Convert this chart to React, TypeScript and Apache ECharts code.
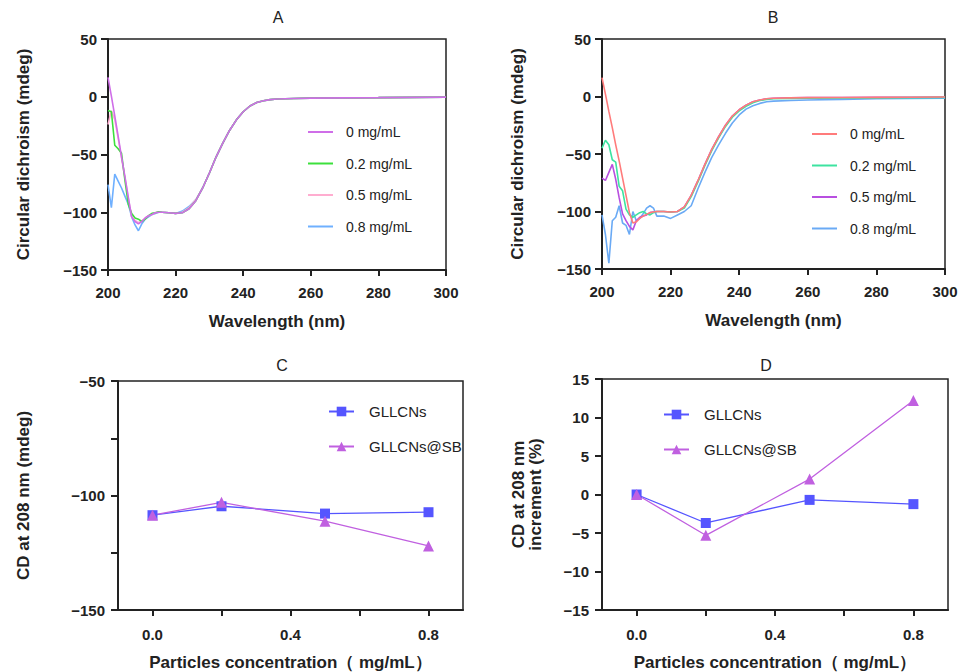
import React, { useEffect, useRef } from "react";
import * as echarts from "echarts";

const FONT = '"Liberation Sans", Arial, Helvetica, sans-serif';

// Panels A & B: wavelength grid (nm)
const wavelengths = [200, 201, 202, 203, 204, 205, 206, 207, 208, 209, 210, 211, 212, 213, 214, 215, 216, 218, 220, 222, 224, 226, 228, 230, 232, 234, 236, 238, 240, 242, 244, 246, 248, 250, 255, 260, 270, 280, 290, 300];

// Panel A (mdeg)
const A_0 = [16.8, 0.5, -16.5, -34, -52, -69, -87, -104, -108, -110, -108, -105, -103, -102, -100.5, -100, -100, -100.5, -101, -100.5, -97, -90, -79, -66, -52, -40, -29, -20, -13, -8, -5, -3.5, -2.5, -2, -1.5, -1.2, -1, -0.8, -0.5, -0.3];
const A_02 = [-12, -13, -42, -45, -49, -72, -93, -101, -105, -106, -108, -106, -103, -101, -100.5, -99.5, -100, -100.5, -101, -100.5, -97, -90, -79, -66, -52, -40, -29, -20, -13, -8, -5, -3.5, -2.5, -2, -1.5, -1.2, -1, -0.8, -0.5, -0.3];
const A_05 = [-24, -12, -20, -36, -53, -70, -88, -104, -107, -109, -107.5, -105, -103, -102, -100.5, -100, -100, -100.5, -101, -100, -96, -89, -79, -66, -52, -40, -29, -20, -13, -8, -5, -3.5, -2.5, -2, -1.5, -1.2, -1, -0.8, -0.5, -0.3];
const A_08 = [-76, -96, -67, -73, -79, -86, -93, -104, -111, -116, -110, -106, -104, -102, -101, -100, -100, -100.5, -101, -99, -95, -89, -79, -66, -52, -40, -29, -20, -13, -8, -5, -3.5, -2.5, -2, -1.5, -1.2, -1, -0.8, -0.5, -0.3];

// Panel B (mdeg)
const B_0 = [16.4, 2, -13, -27, -42, -56, -71, -86, -101, -110, -109, -106, -104, -102.5, -101, -100.5, -100, -100, -100.5, -100, -96, -86, -73, -59, -46, -35, -25, -17, -11.5, -7.5, -4.5, -3, -2, -1.5, -1.2, -1, -0.9, -0.8, -0.6, -0.5];
const B_02 = [-45, -38, -42, -55, -57, -78, -82, -98, -103, -105, -103, -101, -100, -102, -103, -101, -100, -100, -100.5, -100, -97, -87, -74, -60, -47, -36, -26, -18, -12.5, -8.5, -5.5, -3.5, -2.5, -2, -1.8, -1.5, -1.3, -1.2, -1, -0.8];
const B_05 = [-71, -73, -66, -59, -72, -88, -102, -108, -113, -116, -108, -105, -104, -103, -101, -100.5, -100, -100, -100.5, -100, -96, -86, -73, -59, -46, -35, -25, -17, -11.5, -7.5, -4.5, -3, -2, -1.5, -1.2, -1, -0.9, -0.8, -0.6, -0.5];
const B_08 = [-103, -120, -145, -108, -105, -95, -110, -112, -120, -100, -108, -106, -102, -97, -95, -97, -104, -104, -106, -103, -100, -95, -80, -66, -53, -42, -32, -23, -16, -11, -8, -6, -4.5, -4, -3.5, -3, -2.5, -2, -1.8, -1.5];

// Panels C & D
const concentrations = [0, 0.2, 0.5, 0.8];
const C_GLLCNs = [-108.6, -104.7, -107.9, -107.3];
const C_SB = [-108.6, -103, -111.2, -122];
const D_GLLCNs = [0, -3.7, -0.7, -1.25];
const D_SB = [0, -5.3, 2, 12.2];

const LEG_A = ["0 mg/mL", "0.2 mg/mL", "0.5 mg/mL", "0.8 mg/mL"];
const LEG_CD = ["GLLCNs", "GLLCNs@SB"];

const AX = "#222";
const minus = (v: number) => (v < 0 ? "\u2212" + Math.abs(v) : String(v));

function pairs(xs: number[], ys: number[]) {
  return xs.map((x, i) => [x, ys[i]]);
}

function xAxisBase(gridIndex: number, extra: any) {
  return {
    type: "value",
    gridIndex,
    nameLocation: "middle",
    nameTextStyle: { fontFamily: FONT, fontWeight: "bold", fontSize: 17, color: AX },
    axisLine: { onZero: false, lineStyle: { color: AX, width: 2 } },
    axisTick: { inside: false, length: 6, lineStyle: { color: AX, width: 2 } },
    axisLabel: { fontFamily: FONT, fontWeight: "bold", fontSize: 15, color: AX },
    splitLine: { show: false },
    ...extra,
  };
}

export default function App() {
  const ref = useRef<HTMLDivElement>(null);
  useEffect(() => {
    if (!ref.current) return;
    const chart = echarts.init(ref.current, undefined, { renderer: "svg" });
    const curve = (name: string, xi: number, ys: number[], color: string) => ({
      type: "line",
      name,
      xAxisIndex: xi,
      yAxisIndex: xi,
      data: pairs(wavelengths, ys),
      symbol: "none",
      lineStyle: { color, width: 1.6 },
      itemStyle: { color },
    });
    const pts = (name: string, xi: number, ys: number[], color: string, symbol: string, size: number) => ({
      type: "line",
      name,
      xAxisIndex: xi,
      yAxisIndex: xi,
      data: pairs(concentrations, ys),
      symbol,
      symbolSize: size,
      lineStyle: { color, width: 1.3 },
      itemStyle: { color },
    });
    const legendText = { fontFamily: FONT, fontSize: 14, color: AX, padding: [0, 0, 0, 8] };
    const strip = (n: string) => n.replace(/^[A-D]:/, "");
    const gridStyle = { show: true, borderColor: AX, borderWidth: 1.5, backgroundColor: "transparent" };
    const yName = { fontFamily: FONT, fontWeight: "bold", fontSize: 17, color: AX };
    const yAxisBase = (gridIndex: number, extra: any) => ({
      type: "value",
      gridIndex,
      nameLocation: "middle",
      nameTextStyle: yName,
      axisLine: { show: true, onZero: false, lineStyle: { color: AX, width: 2 } },
      axisTick: { show: true, inside: false, length: 7, lineStyle: { color: AX, width: 2 } },
      axisLabel: { fontFamily: FONT, fontWeight: "bold", fontSize: 15, color: AX, margin: 11, formatter: minus },
      splitLine: { show: false },
      ...extra,
    });
    const lineLegend = { orient: "vertical", padding: 0, itemWidth: 25, itemHeight: 14, itemGap: 17.5, formatter: strip, textStyle: legendText, selectedMode: false, itemStyle: { opacity: 0 }, lineStyle: { width: 2 } };
    const ptLegend = { orient: "vertical", padding: 0, itemWidth: 25, itemHeight: 12, itemGap: 20, formatter: strip, textStyle: { ...legendText, fontSize: 15, padding: [0, 0, 0, 10] }, selectedMode: false };
    const option: any = {
      animation: false,
      backgroundColor: "#fff",
      grid: [
        { left: 108, top: 39, width: 338, height: 231, ...gridStyle },
        { left: 602, top: 39, width: 343, height: 230, ...gridStyle },
        { left: 118, top: 381, width: 345, height: 229, ...gridStyle },
        { left: 602, top: 379, width: 346, height: 232, ...gridStyle },
      ],
      xAxis: [
        xAxisBase(0, { min: 200, max: 300, interval: 20, name: "Wavelength (nm)", nameGap: 43, axisLabel: { fontFamily: FONT, fontWeight: "bold", fontSize: 15, color: AX, margin: 15 } }),
        xAxisBase(1, { min: 200, max: 300, interval: 20, name: "Wavelength (nm)", nameGap: 43, axisLabel: { fontFamily: FONT, fontWeight: "bold", fontSize: 15, color: AX, margin: 15 } }),
        xAxisBase(2, {
          min: -0.1, max: 0.9, name: "Particles concentration\uFF08 mg/mL\uFF09", nameGap: 44,
          axisTick: { length: 6, lineStyle: { color: AX, width: 2 }, customValues: [0, 0.2, 0.4, 0.6, 0.8] },
          axisLabel: { fontFamily: FONT, fontWeight: "bold", fontSize: 15, color: AX, margin: 17, customValues: [0, 0.4, 0.8], formatter: (v: number) => v.toFixed(1) },
        }),
        xAxisBase(3, {
          min: -0.1, max: 0.9, name: "Particles concentration\uFF08 mg/mL\uFF09", nameGap: 44,
          axisTick: { length: 6, lineStyle: { color: AX, width: 2 }, customValues: [0, 0.2, 0.4, 0.6, 0.8] },
          axisLabel: { fontFamily: FONT, fontWeight: "bold", fontSize: 15, color: AX, margin: 17, customValues: [0, 0.4, 0.8], formatter: (v: number) => v.toFixed(1) },
        }),
      ],
      yAxis: [
        yAxisBase(0, { min: -150, max: 50, interval: 50, name: "Circular dichroism (mdeg)", nameGap: 76 }),
        yAxisBase(1, { min: -150, max: 50, interval: 50, name: "Circular dichroism (mdeg)", nameGap: 76 }),
        yAxisBase(2, {
          min: -150, max: -50, interval: 25, name: "CD at 208 nm (mdeg)", nameGap: 86,
          axisLabel: { fontFamily: FONT, fontWeight: "bold", fontSize: 15, color: AX, margin: 13, formatter: (v: number) => (v % 50 === 0 ? minus(v) : "") },
        }),
        yAxisBase(3, { min: -15, max: 15, interval: 5, name: "CD at 208 nm\nincrement (%)", nameGap: 58, axisLabel: { fontFamily: FONT, fontWeight: "bold", fontSize: 15, color: AX, margin: 13, formatter: minus } }),
      ],
      legend: [
        { ...lineLegend, left: 307, top: 125, data: LEG_A.map((n) => "A:" + n) },
        { ...lineLegend, left: 811, top: 127, data: LEG_A.map((n) => "B:" + n) },
        { ...ptLegend, left: 328, top: 404, data: LEG_CD.map((n) => "C:" + n) },
        { ...ptLegend, left: 663, top: 407, data: LEG_CD.map((n) => "D:" + n) },
      ],
      graphic: [
        { type: "text", x: 278, y: 17, style: { text: "A", font: `16px ${FONT}`, fill: AX, textAlign: "center", textVerticalAlign: "middle" } },
        { type: "text", x: 773, y: 17, style: { text: "B", font: `16px ${FONT}`, fill: AX, textAlign: "center", textVerticalAlign: "middle" } },
        { type: "text", x: 282, y: 365, style: { text: "C", font: `16px ${FONT}`, fill: AX, textAlign: "center", textVerticalAlign: "middle" } },
        { type: "text", x: 766, y: 365, style: { text: "D", font: `16px ${FONT}`, fill: AX, textAlign: "center", textVerticalAlign: "middle" } },
      ],
      series: [
        curve("A:0.8 mg/mL", 0, A_08, "#6fb0ff"),
        curve("A:0.5 mg/mL", 0, A_05, "#ffadd0"),
        curve("A:0.2 mg/mL", 0, A_02, "#3ce03c"),
        curve("A:0 mg/mL", 0, A_0, "#cf6ee8"),
        curve("B:0.8 mg/mL", 1, B_08, "#6aaaf5"),
        curve("B:0.5 mg/mL", 1, B_05, "#b84fe0"),
        curve("B:0.2 mg/mL", 1, B_02, "#3de3a0"),
        curve("B:0 mg/mL", 1, B_0, "#ff7b7b"),
        pts("C:GLLCNs", 2, C_GLLCNs, "#5555ff", "rect", 10),
        pts("C:GLLCNs@SB", 2, C_SB, "#c060e0", "triangle", 11),
        pts("D:GLLCNs", 3, D_GLLCNs, "#5555ff", "rect", 10),
        pts("D:GLLCNs@SB", 3, D_SB, "#c060e0", "triangle", 11),
      ],
    };
    chart.setOption(option);
    return () => chart.dispose();
  }, []);
  return <div ref={ref} style={{ position: "fixed", left: 0, top: 0, width: 963, height: 672, background: "#fff" }} />;
}
